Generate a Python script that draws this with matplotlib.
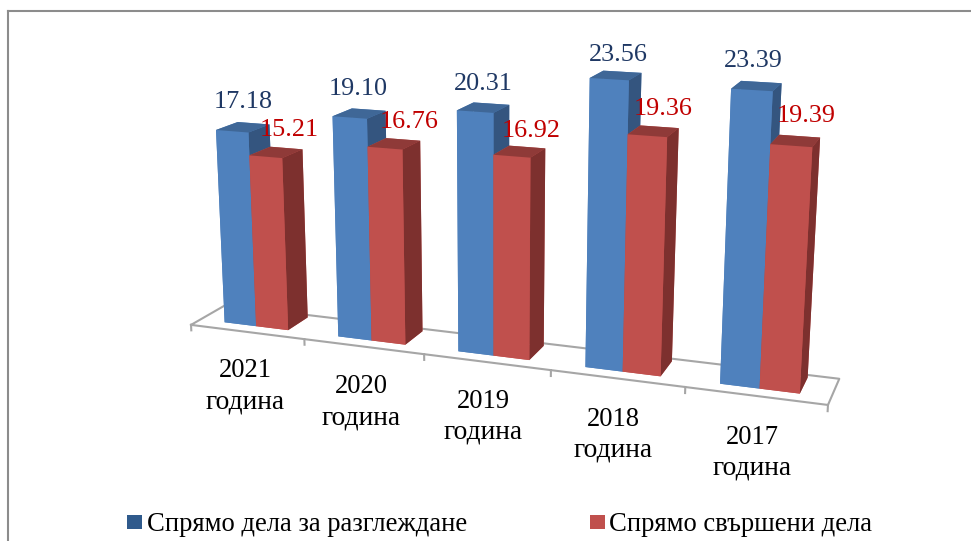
import numpy as np
import matplotlib
matplotlib.use('Agg')
import matplotlib.pyplot as plt
from matplotlib.lines import Line2D
from matplotlib.patches import Rectangle

plt.rcParams['font.family'] = ['Liberation Serif', 'DejaVu Serif']

W, H = 971, 541

years = ['2021', '2020', '2019', '2018', '2017']
blue_vals = [17.18, 19.10, 20.31, 23.56, 23.39]
red_vals = [15.21, 16.76, 16.92, 19.36, 19.39]
legend_names = ['Спрямо дела за разглеждане', 'Спрямо свършени дела']

# label places in pixels (centre x, baseline y), the chart has them moved by hand
blue_lab_pos = [(243, 108), (358, 95), (483, 90), (618, 61), (753, 67)]
red_lab_pos = [(289, 136), (409, 128), (531, 137), (663, 115), (806, 122)]
year_pos = [(245, 377), (361, 393), (483, 408), (613, 426), (752, 444)]
word_pos = [(245, 409), (361, 424), (483, 439), (613, 457), (752, 475)]

# faces: bottom, top, front, back, left, right
blue_faces = ['#4F81BD', '#3F6797', '#4F81BD', '#4F81BD', '#4F81BD', '#34557F']
red_faces = ['#C0504D', '#8F3A38', '#C0504D', '#C0504D', '#C0504D', '#7D302E']

n = len(years)
bar_w = 0.2827
y0, y1 = 0.2748, 0.8986
side = 726.6
left, top = 126.1, -148.8


def px(x, y):
    return x / W, 1 - y / H


fig = plt.figure(figsize=(W / 100, H / 100), dpi=100)
ax = fig.add_axes([left / W, 1 - (top + side) / H, side / W, side / H], projection='3d')
ax.set_xlim(0, n)
ax.set_ylim(0, 1)
ax.set_zlim(0, 25)
ax.view_init(14.1851, -69.9995, -0.0311)
ax.set_proj_type('persp', focal_length=0.3972)
ax.set_box_aspect((1, 0.1083, 0.4543))
ax.set_axis_off()
ax.patch.set_alpha(0)
ax.computed_zorder = False

# floor
floor = '#A6A6A6'
ax.plot([0, n, n, 0, 0], [0, 0, 1, 1, 0], [0, 0, 0, 0, 0], color=floor, lw=1.5, zorder=1)
for i in range(n + 1):
    ax.plot([i, i], [0, 0], [0, -0.5], color=floor, lw=1.5, zorder=1)

# blue first, the red bar then covers its side
for i in range(n):
    ax.bar3d(i + 0.5 - bar_w, y0, 0, bar_w, y1 - y0, blue_vals[i], color=blue_faces,
             shade=False, linewidth=0, zorder=2 + i * 2)
    ax.bar3d(i + 0.5, y0, 0, bar_w, y1 - y0, red_vals[i], color=red_faces,
             shade=False, linewidth=0, zorder=3 + i * 2)

for i in range(n):
    x, y = px(*blue_lab_pos[i])
    fig.text(x, y, '%.2f' % blue_vals[i], color='#1F3864', fontsize=18.8, ha='center', va='baseline')
    x, y = px(*red_lab_pos[i])
    fig.text(x, y, '%.2f' % red_vals[i], color='#C00000', fontsize=18.8, ha='center', va='baseline')
    x, y = px(*year_pos[i])
    fig.text(x, y, years[i], color='black', fontsize=19.2, ha='center', va='baseline')
    x, y = px(*word_pos[i])
    fig.text(x, y, 'година', color='black', fontsize=19.8, ha='center', va='baseline')

# legend
for sx, col, name, tx in [(127, '#2F5A8C', legend_names[0], 147), (590, '#C0504D', legend_names[1], 609)]:
    x, y = px(sx, 529)
    fig.add_artist(Rectangle((x, y), 15 / W, 14 / H, transform=fig.transFigure, color=col, lw=0))
    x, y = px(tx, 531)
    fig.text(x, y, name, color='black', fontsize=19.2, ha='left', va='baseline')

# frame
for a, b in [((7.5, 541), (7.5, 11)), ((7.5, 11), (971, 11))]:
    xa, ya = px(*a)
    xb, yb = px(*b)
    fig.add_artist(Line2D([xa, xb], [ya, yb], color='#8C8C8C', lw=1.5, transform=fig.transFigure))

fig.savefig('out.png', dpi=100)
